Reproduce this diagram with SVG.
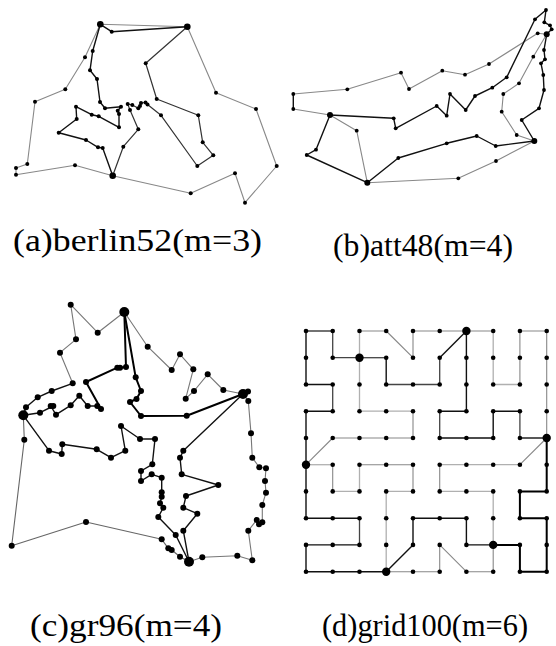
<svg xmlns="http://www.w3.org/2000/svg" width="556" height="646" viewBox="0 0 556 646">
<style>
.k{fill:none;stroke:#111;stroke-width:1.4;stroke-linejoin:round}
.kt{fill:none;stroke:#000;stroke-width:2;stroke-linejoin:round}
.dk{fill:none;stroke:#444;stroke-width:1.3;stroke-linejoin:round}
.g{fill:none;stroke:#888;stroke-width:1.1;stroke-linejoin:round}
.lg{fill:none;stroke:#b0b0b0;stroke-width:1.3;stroke-linejoin:round}
.nodes circle{fill:#000}
.lab{font-family:"Liberation Serif","Times New Roman",serif;font-size:31px;fill:#000}
</style>
<rect width="556" height="646" fill="#fff"/>

<!-- Panel a -->
<g id="connectors-a">
<polyline class="g" points="100.3,24.3 187.3,26.7 216,92.7 256,109 276.7,166 245,202.7 235,173.3 190.7,193.3 112.7,175.7 75,165.3 16,174.7 16,168 27.3,164 35,101.7 65.3,89.3 85,57.3 100.3,24.3"/>
<polyline class="k" points="187.3,26.7 111.7,31.7 100.3,24.3 92.7,51 90,70.3 97,79 100,102 105,108.3 121,106.7 117.7,110.7 119,114 119,127.3 98.7,116.3 91.7,114.7 76,106.7 76.7,119 58.7,132.7 86,140 98,147.3 102.7,148 112.7,175.7"/>
<polyline class="k" style="stroke:#333;stroke-width:1.2" points="187.3,26.7 145.7,63.3 156.7,99 198.3,115.3 202.7,142.3 213.3,155.3 197.3,166 161,115.3 147.5,104.5 145.5,102.5 141,103 140,106 138.3,108.3 132.3,105 127.7,104 130,110 138.3,129.3 123.3,146.7 112.7,175.7"/>
</g>
<g id="nodes-a" class="nodes">
<circle cx="100.3" cy="24.3" r="3.3"/><circle cx="187.3" cy="26.7" r="3.3"/><circle cx="112.7" cy="175.7" r="3.3"/>
<circle cx="111.7" cy="31.7" r="2"/><circle cx="92.7" cy="51" r="2"/><circle cx="85" cy="57.3" r="2"/><circle cx="90" cy="70.3" r="2"/><circle cx="97" cy="79" r="2"/><circle cx="65.3" cy="89.3" r="2"/><circle cx="35" cy="101.7" r="2"/><circle cx="100" cy="102" r="2"/><circle cx="105" cy="108.3" r="2"/><circle cx="76" cy="106.7" r="2"/><circle cx="76.7" cy="119" r="2"/><circle cx="91.7" cy="114.7" r="2"/><circle cx="98.7" cy="116.3" r="2"/><circle cx="119" cy="127.3" r="2"/><circle cx="121" cy="106.7" r="2"/><circle cx="117.7" cy="110.7" r="2"/><circle cx="119" cy="114" r="2"/>
<circle cx="127.7" cy="104" r="2"/><circle cx="132.3" cy="105" r="2"/><circle cx="130" cy="110" r="2"/><circle cx="138.3" cy="108.3" r="2"/><circle cx="140" cy="106" r="2"/><circle cx="141" cy="103" r="2"/><circle cx="145.5" cy="102.5" r="2"/><circle cx="147.5" cy="104.5" r="2"/>
<circle cx="138.3" cy="129.3" r="2"/><circle cx="123.3" cy="146.7" r="2"/><circle cx="58.7" cy="132.7" r="2"/><circle cx="86" cy="140" r="2"/><circle cx="98" cy="147.3" r="2"/><circle cx="102.7" cy="148" r="2"/><circle cx="75" cy="165.3" r="2"/><circle cx="27.3" cy="164" r="2"/><circle cx="16" cy="168" r="2"/><circle cx="16" cy="174.7" r="2"/>
<circle cx="145.7" cy="63.3" r="2"/><circle cx="156.7" cy="99" r="2"/><circle cx="161" cy="115.3" r="2"/><circle cx="198.3" cy="115.3" r="2"/><circle cx="202.7" cy="142.3" r="2"/><circle cx="213.3" cy="155.3" r="2"/><circle cx="197.3" cy="166" r="2"/><circle cx="216" cy="92.7" r="2"/><circle cx="256" cy="109" r="2"/><circle cx="276.7" cy="166" r="2"/><circle cx="245" cy="202.7" r="2"/><circle cx="235" cy="173.3" r="2"/><circle cx="190.7" cy="193.3" r="2"/>
</g>

<!-- Panel b -->
<g id="connectors-b">
<polyline class="g" points="330,115 293.3,109"/>
<polyline class="g" points="293.3,94 347.3,89.3 401,72.7 409,89 442.3,70.7 465,74.7 489,64 537.7,33.3 546.7,34.3"/>
<polyline class="k" points="293.3,94 293.3,109"/>
<polyline class="g" points="330,115 356.7,130.7 367.3,182.7 458.3,178.3 496,161 534.3,141"/>
<polyline class="g" points="546.7,34.3 533.3,56.7 519,83.3 503.3,94 501.7,111.7 516.7,135 534.3,141"/>
<polyline class="k" points="330,115 393.7,118.3 395.7,128.3 436.7,106 446.7,115.7 450,94 465.7,110 475,96 492.3,87.7 506.7,77.3 535,19.3 546,10 544.3,22.3 550,25.3 551.7,29.3 546.7,34.3"/>
<polyline class="k" points="330,115 316,149.7 306.7,155 367.3,182.7 398.3,158 446.7,143.3 476.7,136 495.7,146 534.3,141"/>
<polyline class="k" points="546.7,34.3 544,50 545,59.3 541,63.3 543.3,75 544,90 539,108.3 521.7,120 534.3,141"/>
</g>
<g id="nodes-b" class="nodes">
<circle cx="330" cy="115" r="3"/><circle cx="367.3" cy="182.7" r="3"/><circle cx="546.7" cy="34.3" r="3"/><circle cx="534.3" cy="141" r="3"/>
<circle cx="401" cy="72.7" r="1.9"/><circle cx="409" cy="89" r="1.9"/><circle cx="347.3" cy="89.3" r="1.9"/><circle cx="293.3" cy="94" r="1.9"/><circle cx="293.3" cy="109" r="1.9"/><circle cx="393.7" cy="118.3" r="1.9"/><circle cx="395.7" cy="128.3" r="1.9"/><circle cx="356.7" cy="130.7" r="1.9"/><circle cx="316" cy="149.7" r="1.9"/><circle cx="306.7" cy="155" r="1.9"/><circle cx="398.3" cy="158" r="1.9"/>
<circle cx="546" cy="10" r="1.9"/><circle cx="535" cy="19.3" r="1.9"/><circle cx="544.3" cy="22.3" r="1.9"/><circle cx="550" cy="25.3" r="1.9"/><circle cx="551.7" cy="29.3" r="1.9"/><circle cx="537.7" cy="33.3" r="1.9"/><circle cx="544" cy="50" r="1.9"/><circle cx="533.3" cy="56.7" r="1.9"/><circle cx="541" cy="63.3" r="1.9"/><circle cx="545" cy="59.3" r="1.9"/><circle cx="543.3" cy="75" r="1.9"/><circle cx="544" cy="90" r="1.9"/><circle cx="539" cy="108.3" r="1.9"/><circle cx="521.7" cy="120" r="1.9"/><circle cx="516.7" cy="135" r="1.9"/><circle cx="501.7" cy="111.7" r="1.9"/><circle cx="503.3" cy="94" r="1.9"/><circle cx="519" cy="83.3" r="1.9"/><circle cx="506.7" cy="77.3" r="1.9"/><circle cx="492.3" cy="87.7" r="1.9"/><circle cx="475" cy="96" r="1.9"/><circle cx="465.7" cy="110" r="1.9"/><circle cx="450" cy="94" r="1.9"/><circle cx="446.7" cy="115.7" r="1.9"/><circle cx="436.7" cy="106" r="1.9"/><circle cx="489" cy="64" r="1.9"/><circle cx="465" cy="74.7" r="1.9"/><circle cx="442.3" cy="70.7" r="1.9"/><circle cx="476.7" cy="136" r="1.9"/><circle cx="495.7" cy="146" r="1.9"/><circle cx="446.7" cy="143.3" r="1.9"/><circle cx="496" cy="161" r="1.9"/><circle cx="458.3" cy="178.3" r="1.9"/>
</g>

<!-- Panel c -->
<g id="connectors-c">
<polyline class="g" style="stroke:#777" points="124.3,312 97.7,332.7 70.7,304.7 76,339.3 60,352.7 72.7,383.3"/>
<polyline class="k" points="72.7,383.3 51.7,391 37.7,397.3 26,407.3 23.3,415.3"/>
<polyline class="kt" points="124.3,312 126,367 120,367.7 117.3,367.7 86,382 101,409"/>
<polyline class="k" points="23.3,415.3 40,412.7 53.3,406 50.7,406 56,414.7 70.7,405.3 79.3,395.7 87.7,406 97.3,406 101,409"/>
<polyline class="kt" points="124.3,312 135.7,377.3 141,391 136.5,399 130,402 141,416 186.7,415.7 243,394"/>
<polyline class="g" style="stroke:#777" points="124.3,312 147.7,346.7 171.7,370 180,354.3 193.3,369.3 185.7,398.7 194,391 207.7,374.3 223.3,390 243,394"/>
<polyline class="g" style="stroke:#666" points="23.3,415.3 24.3,439.7 11.7,545.7 86,522 161.7,539.3 168.3,548.3 171.7,550 180,556.7 189,561.7"/>
<polyline class="k" points="23.3,415.3 49,450.7 61.7,454 62.3,444.3 96.7,449.3 111,457.7 125.3,450.7 121,426 140,439 155,439 152.3,464.3 141,471 141,481 151.7,474.3 161.7,477.7 161.7,492.3 161.7,496.7 160,503.3 163.3,507.7 158.3,517 175.7,535 189,561.7"/>
<polyline class="k" points="243,394 183.3,450.7 180,457.7 181.7,474.3 218.3,485 186,496 183.3,507.7 197.3,513.7 183.3,530.7 189,561.7"/>
<polyline class="g" style="stroke:#777" points="243,394 248.3,401 251,433.3 252.3,457.7 259.3,467.3 266,468.3 265,481 266,492.7 262.3,505 262.3,522.3 259,524.3 256.7,520 248.3,530.7 252.3,560.3 237.3,555.7 202.3,557.3 189,561.7"/>
</g>
<g id="nodes-c" class="nodes">
<circle cx="124.3" cy="312" r="5"/><circle cx="243" cy="394" r="5"/><circle cx="23.3" cy="415.3" r="5"/><circle cx="189" cy="561.7" r="5"/>
<circle cx="97.7" cy="332.7" r="3"/><circle cx="70.7" cy="304.7" r="3"/><circle cx="76" cy="339.3" r="3"/><circle cx="60" cy="352.7" r="3"/><circle cx="72.7" cy="383.3" r="3"/><circle cx="51.7" cy="391" r="3"/><circle cx="37.7" cy="397.3" r="3"/><circle cx="26" cy="407.3" r="3"/><circle cx="126" cy="367" r="3"/><circle cx="120" cy="367.7" r="3"/><circle cx="117.3" cy="367.7" r="3"/><circle cx="86" cy="382" r="3"/><circle cx="101" cy="409" r="3"/><circle cx="40" cy="412.7" r="3"/><circle cx="53.3" cy="406" r="3"/><circle cx="50.7" cy="406" r="3"/><circle cx="56" cy="414.7" r="3"/><circle cx="70.7" cy="405.3" r="3"/><circle cx="79.3" cy="395.7" r="3"/><circle cx="87.7" cy="406" r="3"/><circle cx="97.3" cy="406" r="3"/>
<circle cx="135.7" cy="377.3" r="3"/><circle cx="141" cy="391" r="3"/><circle cx="136.5" cy="399" r="3"/><circle cx="130" cy="402" r="3"/><circle cx="141" cy="416" r="3"/><circle cx="186.7" cy="415.7" r="3"/><circle cx="147.7" cy="346.7" r="3"/><circle cx="171.7" cy="370" r="3"/><circle cx="180" cy="354.3" r="3"/><circle cx="193.3" cy="369.3" r="3"/><circle cx="185.7" cy="398.7" r="3"/><circle cx="194" cy="391" r="3"/><circle cx="207.7" cy="374.3" r="3"/><circle cx="223.3" cy="390" r="3"/><circle cx="248" cy="391.5" r="3"/><circle cx="248.3" cy="401" r="3"/>
<circle cx="24.3" cy="439.7" r="3"/><circle cx="11.7" cy="545.7" r="3"/><circle cx="86" cy="522" r="3"/><circle cx="161.7" cy="539.3" r="3"/><circle cx="168.3" cy="548.3" r="3"/><circle cx="171.7" cy="550" r="3"/><circle cx="180" cy="556.7" r="3"/><circle cx="49" cy="450.7" r="3"/><circle cx="61.7" cy="454" r="3"/><circle cx="62.3" cy="444.3" r="3"/><circle cx="96.7" cy="449.3" r="3"/><circle cx="111" cy="457.7" r="3"/><circle cx="125.3" cy="450.7" r="3"/><circle cx="121" cy="426" r="3"/><circle cx="140" cy="439" r="3"/><circle cx="155" cy="439" r="3"/><circle cx="152.3" cy="464.3" r="3"/><circle cx="141" cy="471" r="3"/><circle cx="141" cy="481" r="3"/><circle cx="151.7" cy="474.3" r="3"/><circle cx="161.7" cy="477.7" r="3"/><circle cx="161.7" cy="492.3" r="3"/><circle cx="161.7" cy="496.7" r="3"/><circle cx="160" cy="503.3" r="3"/><circle cx="163.3" cy="507.7" r="3"/><circle cx="158.3" cy="517" r="3"/><circle cx="175.7" cy="535" r="3"/>
<circle cx="183.3" cy="450.7" r="3"/><circle cx="180" cy="457.7" r="3"/><circle cx="181.7" cy="474.3" r="3"/><circle cx="218.3" cy="485" r="3"/><circle cx="186" cy="496" r="3"/><circle cx="183.3" cy="507.7" r="3"/><circle cx="197.3" cy="513.7" r="3"/><circle cx="183.3" cy="530.7" r="3"/>
<circle cx="251" cy="433.3" r="3"/><circle cx="252.3" cy="457.7" r="3"/><circle cx="259.3" cy="467.3" r="3"/><circle cx="266" cy="468.3" r="3"/><circle cx="265" cy="481" r="3"/><circle cx="266" cy="492.7" r="3"/><circle cx="262.3" cy="505" r="3"/><circle cx="262.3" cy="522.3" r="3"/><circle cx="259" cy="524.3" r="3"/><circle cx="256.7" cy="520" r="3"/><circle cx="248.3" cy="530.7" r="3"/><circle cx="252.3" cy="560.3" r="3"/><circle cx="237.3" cy="555.7" r="3"/><circle cx="202.3" cy="557.3" r="3"/>
</g>

<!-- Panel d -->
<g id="connectors-d">
<polyline class="k" points="332.7,384.5 306,384.5 306,357.7 306,331"/>
<polyline class="k" points="332.7,411.2 306,411.2 306,438 306,464.7 306,491.4 306,518.2 332.7,518.2 359.5,518.2"/>
<polyline class="k" points="359.5,544.9 332.7,544.9 306,544.9 306,571.7 332.7,571.7 359.5,571.7 386.2,571.7"/>
<polyline class="k" points="386.2,357.7 386.2,384.5"/>
<polyline class="k" points="466.4,331 466.4,357.7 466.4,384.5 466.4,411.2 439.7,411.2"/>
<polyline class="k" points="439.7,438 466.4,438 493.2,438 493.2,411.2 519.9,411.2"/>
<polyline class="k" points="519.9,438 546.7,438"/>
<polyline class="k" points="386.2,571.7 413,544.9 413,518.2 439.7,518.2 466.4,518.2 466.4,544.9 493.2,544.9"/>
<polyline class="kt" points="546.7,438 546.7,464.7 546.7,491.4 519.9,491.4 519.9,518.2 546.7,518.2 546.7,544.9 546.7,571.7 519.9,571.7 519.9,544.9 493.2,544.9"/>
<polyline class="k" points="439.7,357.7 466.4,331"/>
<polyline class="dk" points="306,331 332.7,331 332.7,357.7 359.5,357.7"/>
<polyline class="dk" points="332.7,384.5 332.7,411.2"/>
<polyline class="dk" points="359.5,518.2 359.5,544.9"/>
<polyline class="dk" points="359.5,357.7 386.2,357.7"/>
<polyline class="dk" points="386.2,384.5 413,384.5 439.7,384.5 439.7,357.7"/>
<polyline class="dk" points="439.7,411.2 439.7,438"/>
<polyline class="dk" points="519.9,411.2 519.9,438"/>
<polyline class="g" points="359.5,331 386.2,331 413,357.7 413,331 439.7,331 466.4,331 493.2,331"/>
<polyline class="g" points="519.9,384.5 519.9,357.7 519.9,331 546.7,331 546.7,357.7 546.7,384.5 546.7,411.2 546.7,438"/>
<polyline class="g" points="413,411.2 413,438 386.2,438 359.5,438 332.7,438 306,464.7"/>
<polyline class="g" points="332.7,464.7 332.7,491.4"/>
<polyline class="g" points="359.5,464.7 386.2,464.7 413,464.7 413,491.4"/>
<polyline class="g" points="546.7,438 519.9,464.7"/>
<polyline class="g" points="439.7,464.7 439.7,491.4"/>
<polyline class="g" points="386.2,571.7 413,571.7 439.7,571.7 439.7,544.9 466.4,571.7 493.2,571.7 493.2,544.9"/>
<polyline class="lg" points="359.5,331 359.5,357.7 359.5,384.5 359.5,411.2 386.2,411.2 413,411.2"/>
<polyline class="lg" points="493.2,331 493.2,357.7 493.2,384.5 519.9,384.5"/>
<polyline class="lg" points="306,464.7 332.7,464.7"/>
<polyline class="lg" points="332.7,491.4 359.5,491.4 359.5,464.7"/>
<polyline class="lg" points="413,491.4 386.2,491.4 386.2,518.2 386.2,544.9 386.2,571.7"/>
<polyline class="lg" points="519.9,464.7 493.2,464.7 466.4,464.7 439.7,464.7"/>
<polyline class="lg" points="439.7,491.4 466.4,491.4 493.2,491.4 493.2,518.2 493.2,544.9"/>
</g>
<g id="nodes-d" class="nodes">
<circle cx="306" cy="331" r="2.3"/><circle cx="332.7" cy="331" r="2.3"/><circle cx="359.5" cy="331" r="2.3"/><circle cx="386.2" cy="331" r="2.3"/><circle cx="413" cy="331" r="2.3"/><circle cx="439.7" cy="331" r="2.3"/><circle cx="466.4" cy="331" r="4.2"/><circle cx="493.2" cy="331" r="2.3"/><circle cx="519.9" cy="331" r="2.3"/><circle cx="546.7" cy="331" r="2.3"/>
<circle cx="306" cy="357.7" r="2.3"/><circle cx="332.7" cy="357.7" r="2.3"/><circle cx="359.5" cy="357.7" r="4.2"/><circle cx="386.2" cy="357.7" r="2.3"/><circle cx="413" cy="357.7" r="2.3"/><circle cx="439.7" cy="357.7" r="2.3"/><circle cx="466.4" cy="357.7" r="2.3"/><circle cx="493.2" cy="357.7" r="2.3"/><circle cx="519.9" cy="357.7" r="2.3"/><circle cx="546.7" cy="357.7" r="2.3"/>
<circle cx="306" cy="384.5" r="2.3"/><circle cx="332.7" cy="384.5" r="2.3"/><circle cx="359.5" cy="384.5" r="2.3"/><circle cx="386.2" cy="384.5" r="2.3"/><circle cx="413" cy="384.5" r="2.3"/><circle cx="439.7" cy="384.5" r="2.3"/><circle cx="466.4" cy="384.5" r="2.3"/><circle cx="493.2" cy="384.5" r="2.3"/><circle cx="519.9" cy="384.5" r="2.3"/><circle cx="546.7" cy="384.5" r="2.3"/>
<circle cx="306" cy="411.2" r="2.3"/><circle cx="332.7" cy="411.2" r="2.3"/><circle cx="359.5" cy="411.2" r="2.3"/><circle cx="386.2" cy="411.2" r="2.3"/><circle cx="413" cy="411.2" r="2.3"/><circle cx="439.7" cy="411.2" r="2.3"/><circle cx="466.4" cy="411.2" r="2.3"/><circle cx="493.2" cy="411.2" r="2.3"/><circle cx="519.9" cy="411.2" r="2.3"/><circle cx="546.7" cy="411.2" r="2.3"/>
<circle cx="306" cy="438" r="2.3"/><circle cx="332.7" cy="438" r="2.3"/><circle cx="359.5" cy="438" r="2.3"/><circle cx="386.2" cy="438" r="2.3"/><circle cx="413" cy="438" r="2.3"/><circle cx="439.7" cy="438" r="2.3"/><circle cx="466.4" cy="438" r="2.3"/><circle cx="493.2" cy="438" r="2.3"/><circle cx="519.9" cy="438" r="2.3"/><circle cx="546.7" cy="438" r="4.2"/>
<circle cx="306" cy="464.7" r="4.2"/><circle cx="332.7" cy="464.7" r="2.3"/><circle cx="359.5" cy="464.7" r="2.3"/><circle cx="386.2" cy="464.7" r="2.3"/><circle cx="413" cy="464.7" r="2.3"/><circle cx="439.7" cy="464.7" r="2.3"/><circle cx="466.4" cy="464.7" r="2.3"/><circle cx="493.2" cy="464.7" r="2.3"/><circle cx="519.9" cy="464.7" r="2.3"/><circle cx="546.7" cy="464.7" r="2.3"/>
<circle cx="306" cy="491.4" r="2.3"/><circle cx="332.7" cy="491.4" r="2.3"/><circle cx="359.5" cy="491.4" r="2.3"/><circle cx="386.2" cy="491.4" r="2.3"/><circle cx="413" cy="491.4" r="2.3"/><circle cx="439.7" cy="491.4" r="2.3"/><circle cx="466.4" cy="491.4" r="2.3"/><circle cx="493.2" cy="491.4" r="2.3"/><circle cx="519.9" cy="491.4" r="2.3"/><circle cx="546.7" cy="491.4" r="2.3"/>
<circle cx="306" cy="518.2" r="2.3"/><circle cx="332.7" cy="518.2" r="2.3"/><circle cx="359.5" cy="518.2" r="2.3"/><circle cx="386.2" cy="518.2" r="2.3"/><circle cx="413" cy="518.2" r="2.3"/><circle cx="439.7" cy="518.2" r="2.3"/><circle cx="466.4" cy="518.2" r="2.3"/><circle cx="493.2" cy="518.2" r="2.3"/><circle cx="519.9" cy="518.2" r="2.3"/><circle cx="546.7" cy="518.2" r="2.3"/>
<circle cx="306" cy="544.9" r="2.3"/><circle cx="332.7" cy="544.9" r="2.3"/><circle cx="359.5" cy="544.9" r="2.3"/><circle cx="386.2" cy="544.9" r="2.3"/><circle cx="413" cy="544.9" r="2.3"/><circle cx="439.7" cy="544.9" r="2.3"/><circle cx="466.4" cy="544.9" r="2.3"/><circle cx="493.2" cy="544.9" r="4.2"/><circle cx="519.9" cy="544.9" r="2.3"/><circle cx="546.7" cy="544.9" r="2.3"/>
<circle cx="306" cy="571.7" r="2.3"/><circle cx="332.7" cy="571.7" r="2.3"/><circle cx="359.5" cy="571.7" r="2.3"/><circle cx="386.2" cy="571.7" r="4.2"/><circle cx="413" cy="571.7" r="2.3"/><circle cx="439.7" cy="571.7" r="2.3"/><circle cx="466.4" cy="571.7" r="2.3"/><circle cx="493.2" cy="571.7" r="2.3"/><circle cx="519.9" cy="571.7" r="2.3"/><circle cx="546.7" cy="571.7" r="2.3"/>
</g>

<g id="labels">
<text class="lab" x="13" y="251" textLength="249" lengthAdjust="spacingAndGlyphs">(a)berlin52(m=3)</text>
<text class="lab" x="333" y="256" textLength="180" lengthAdjust="spacingAndGlyphs">(b)att48(m=4)</text>
<text class="lab" x="30" y="636" textLength="192" lengthAdjust="spacingAndGlyphs">(c)gr96(m=4)</text>
<text class="lab" x="322" y="636" textLength="206" lengthAdjust="spacingAndGlyphs">(d)grid100(m=6)</text>
</g>
</svg>
